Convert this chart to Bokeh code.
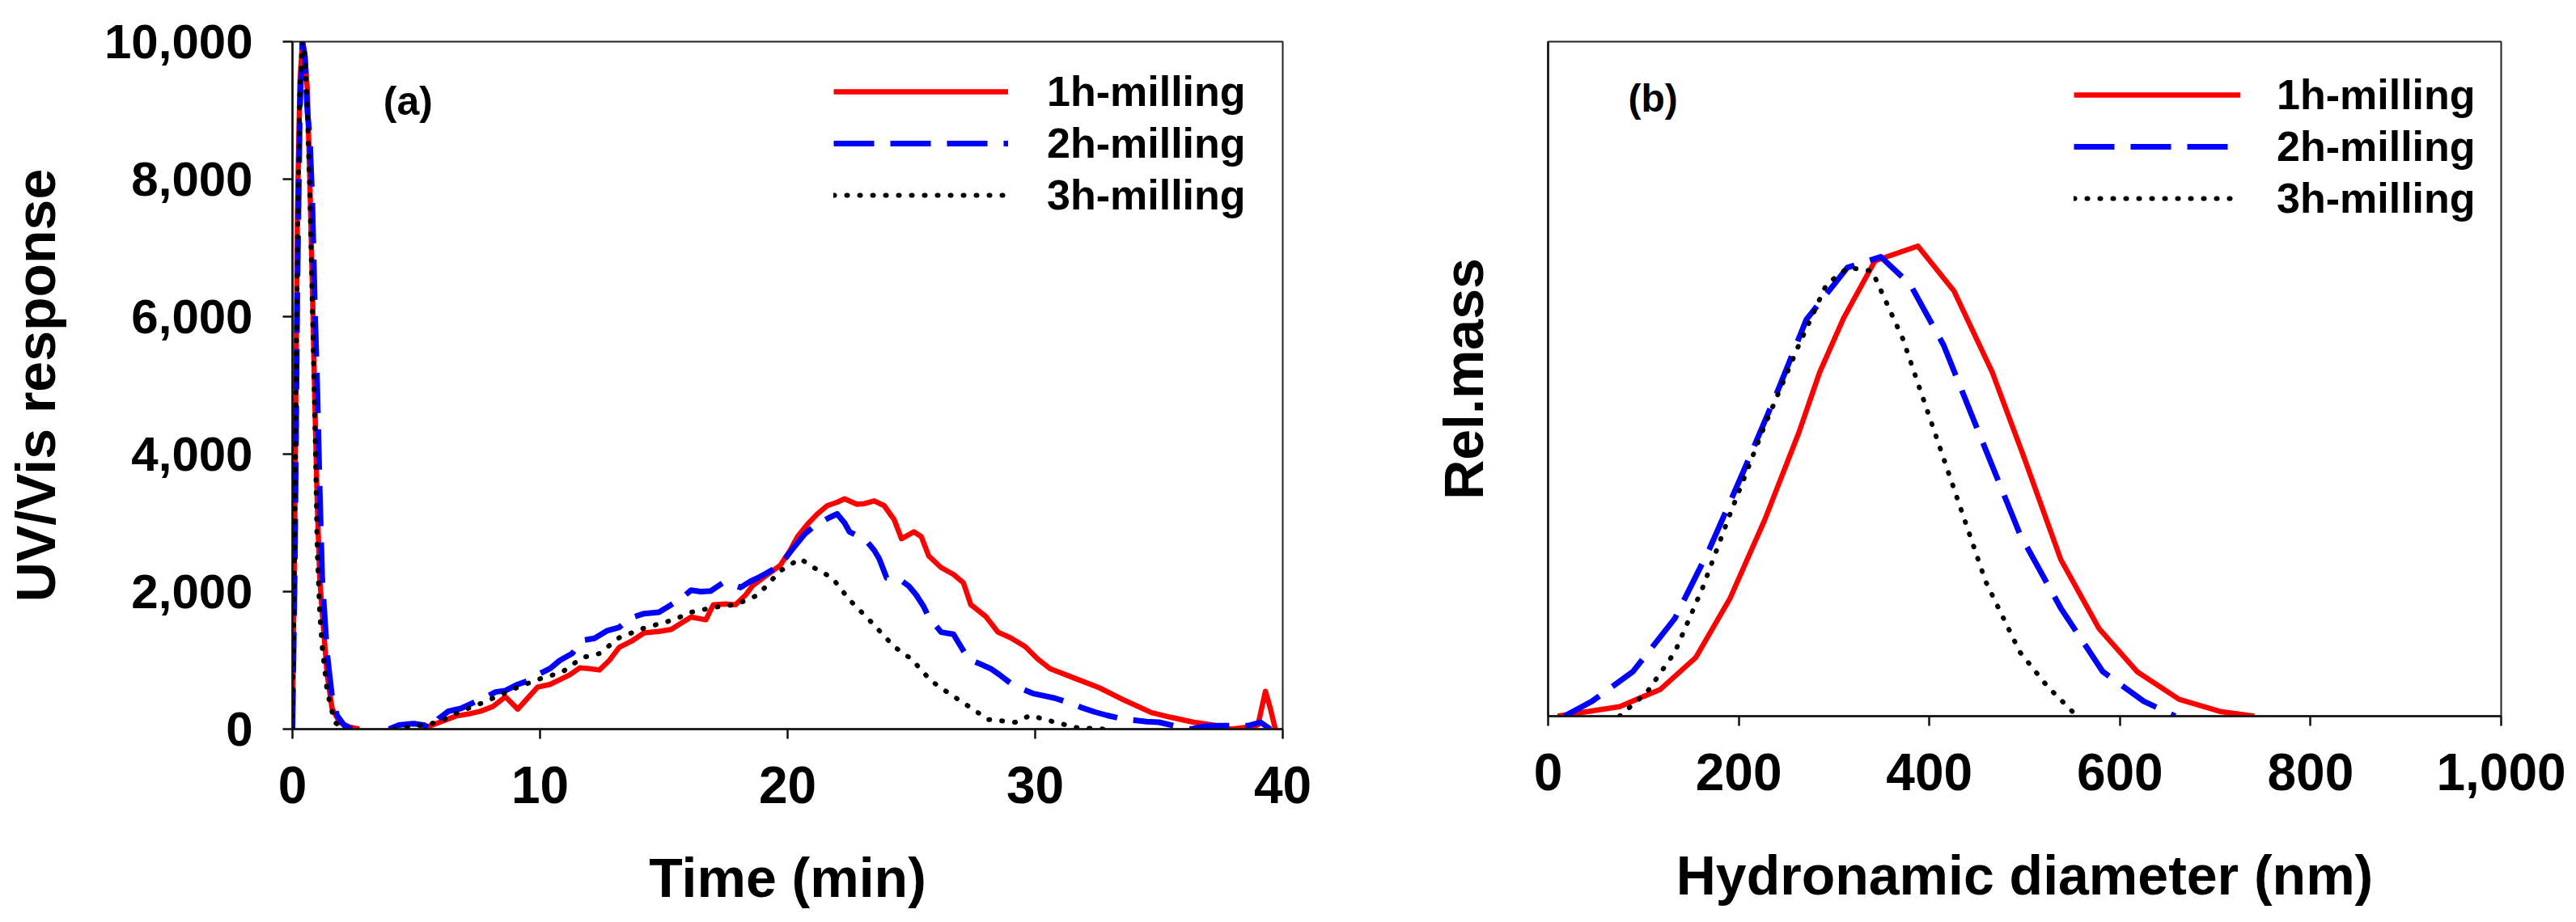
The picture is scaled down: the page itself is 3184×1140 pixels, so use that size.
from bokeh.plotting import figure
from bokeh.layouts import row
from bokeh.models import Legend, LegendItem, Label, NumeralTickFormatter, FixedTicker, Range1d
from bokeh.embed import file_html
from bokeh.resources import INLINE

nan = float("nan")
FONT = "Liberation Sans"

SERIES = ["1h-milling", "2h-milling", "3h-milling"]

# ---- (a) UV/Vis fractogram: time (min) vs detector response ----
time_1h = [0, 0.1, 0.2, 0.3, 0.4, 0.5, 0.6, 0.7, 0.8, 0.9, 1.0, 1.1, 1.2, 1.4, 1.6, 1.9, 2.3, 2.7, nan,
           5.2, 5.8, 6.6, 7.1, 7.6, 8.1, 8.6, 9.1, 9.5, 9.9, 10.4, 10.8, 11.2, 11.6, 12.0, 12.4, 12.8, 13.2,
           13.7, 14.2, 14.8, 15.3, 15.7, 16.1, 16.7, 17.0, 17.5, 17.9, 18.3, 18.6, 19.2, 19.7, 20.1, 20.4,
           20.8, 21.2, 21.6, 22.0, 22.3, 22.8, 23.1, 23.5, 23.9, 24.3, 24.6, 25.1, 25.4, 25.7, 26.2, 26.7,
           27.1, 27.4, 28.0, 28.5, 29.0, 29.6, 30.1, 30.6, 31.6, 32.6, 33.6, 34.7, 35.5, 36.4, 37.2, 37.9,
           38.6, 39.0, 39.3, 39.5, 39.7]
uv_1h = [0, 3300, 7500, 9400, 10000, 9800, 9300, 8000, 6500, 4800, 3300, 2200, 1700, 800, 300, 100, 30, 0, nan,
         0, 80, 190, 220, 260, 330, 470, 290, 450, 610, 650, 720, 790, 890, 880, 860, 1000, 1190,
         1280, 1400, 1420, 1450, 1540, 1630, 1590, 1810, 1820, 1810, 1950, 2090, 2250, 2380, 2600, 2800,
         2980, 3130, 3250, 3300, 3350, 3270, 3280, 3320, 3250, 3050, 2770, 2870, 2800, 2520, 2350, 2250,
         2130, 1810, 1640, 1410, 1330, 1200, 1020, 880, 740, 600, 420, 240, 170, 100, 60, 0,
         30, 60, 550, 300, 0]

time_2h = [0, 0.1, 0.2, 0.3, 0.4, 0.5, 0.6, 0.7, 0.8, 0.9, 1.0, 1.1, 1.2, 1.4, 1.6, 1.8, 2.1, 2.4, nan,
           3.9, 4.3, 4.9, 5.3, 5.6, 5.9, 6.3, 6.8, 7.4, 7.8, 8.2, 8.6, 9.1, 9.5, 9.9, 10.4, 10.8, 11.3,
           11.7, 12.2, 12.7, 13.2, 13.6, 14.2, 14.8, 15.3, 15.7, 16.1, 16.5, 16.9, 17.4, 17.8, 18.1, 18.5,
           18.8, 19.2, 19.5, 19.9, 20.2, 20.7, 21.0, 21.4, 21.7, 22.0, 22.3, 22.5, 22.9, 23.2, 23.5, 23.7,
           24.0, 24.3, 24.6, 24.9, 25.2, 25.5, 25.7, 26.0, 26.2, 26.7, 27.0, 27.3, 27.7, 28.2, 28.6, 29.0,
           29.5, 29.9, 30.4, 30.8, 31.4, 31.9, 32.4, 32.9, 33.5, 34.0, 34.5, 35.0, 35.6, 36.3, 36.8, 37.4,
           38.0, 38.6, 39.1, 39.5]
uv_2h = [0, 2500, 6500, 9000, 10000, 9800, 9000, 8600, 7700, 6200, 5000, 3500, 2200, 1100, 470, 200, 50, 0, nan,
         0, 60, 80, 60, 0, 150, 260, 300, 400, 460, 540, 560, 650, 700, 790, 880, 1000, 1100,
         1290, 1320, 1430, 1480, 1610, 1680, 1700, 1810, 1900, 2020, 2000, 2010, 2130, 2100, 2060, 2150,
         2200, 2280, 2340, 2480, 2620, 2840, 2930, 3020, 3080, 3130, 3000, 2870, 2800, 2730, 2600, 2480,
         2200, 2180, 2160, 2080, 1950, 1780, 1630, 1500, 1410, 1380, 1200, 1020, 960, 880, 780, 670,
         580, 520, 480, 450, 380, 310, 250, 200, 150, 130, 110, 100, 50, 0, 40, 50,
         50, 50, 100, 0]

time_3h = [0, 0.1, 0.2, 0.3, 0.4, 0.5, 0.6, 0.7, 0.8, 0.9, 1.0, 1.1, 1.2, 1.4, 1.7, 2.0, 2.2, nan,
           4.1, 4.9, 5.9, 6.8, 7.8, 8.9, 9.9, 10.9, 11.7, 12.4, 13.2, 14.2, 15.4, 16.1, 17.0, 17.9, 18.8,
           19.7, 20.5, 21.1, 21.8, 22.5, 23.4, 24.3, 25.0, 25.8, 26.4, 27.4, 28.1, 29.2, 29.8, 30.8, 31.7,
           32.8]
uv_3h = [0, 3000, 7000, 9300, 10000, 9800, 9000, 7800, 6200, 4600, 2600, 1700, 1200, 550, 100, 20, 0, nan,
         0, 40, 100, 260, 400, 580, 720, 830, 1040, 1100, 1330, 1470, 1590, 1700, 1770, 1810, 1950,
         2300, 2480, 2340, 2200, 1880, 1550, 1200, 1020, 700, 550, 310, 140, 100, 200, 100, 20,
         0]

# ---- (b) size distribution: hydrodynamic diameter (nm) vs relative mass ----
dh_1h = [10, 75, 118, 155, 191, 227, 263, 285, 310, 343, 388, 426, 466, 499, 538, 578, 618, 662, 705, 741]
mass_1h = [0, 0.014, 0.04, 0.087, 0.175, 0.29, 0.42, 0.51, 0.59, 0.675, 0.697, 0.63, 0.51, 0.385, 0.232,
           0.13, 0.066, 0.025, 0.007, 0]

dh_2h = [17, 46, 89, 133, 169, 205, 242, 271, 314, 349, 380, 415, 452, 495, 538, 582, 625, 658]
mass_2h = [0, 0.022, 0.066, 0.145, 0.247, 0.363, 0.486, 0.588, 0.665, 0.681, 0.64, 0.55, 0.42, 0.27,
           0.16, 0.066, 0.022, 0]

dh_3h = [75, 104, 133, 162, 191, 227, 263, 292, 315, 340, 372, 401, 430, 459, 495, 524, 550]
mass_3h = [0, 0.036, 0.095, 0.19, 0.3, 0.43, 0.55, 0.64, 0.665, 0.66, 0.56, 0.44, 0.32, 0.2, 0.095,
           0.044, 0.007]

STYLES = [
    dict(line_color="#ff0000", line_width=6.5, line_join="round"),
    dict(line_color="#0000ff", line_width=7, line_dash="50 20", line_join="round"),
    dict(line_color="#000000", line_width=6, line_dash="1 15", line_cap="round", line_join="round"),
]

TEXT = dict(text_font=FONT, text_font_style="bold", text_color="#000000")


def style_axes(p, x_ticks, y_ticks, x_label, y_label, x_std, x_lab_std, y_std, y_lab_std):
    for ax in (p.xaxis[0], p.yaxis[0]):
        ax.axis_line_color = "#111111"
        ax.axis_line_width = 2.5
        ax.major_tick_line_color = "#111111"
        ax.major_tick_line_width = 2.5
        ax.major_tick_in = 0
        ax.major_tick_out = 12
        ax.minor_tick_in = 0
        ax.minor_tick_out = 0
        ax.major_label_text_font = FONT
        ax.major_label_text_font_style = "bold"
        ax.major_label_text_color = "#000000"
        ax.axis_label_text_font = FONT
        ax.axis_label_text_font_style = "bold"
        ax.axis_label_text_color = "#000000"
        ax.axis_label_text_font_size = "68px"
        ax.formatter = NumeralTickFormatter(format="0,0")
    p.xaxis[0].ticker = FixedTicker(ticks=x_ticks)
    p.yaxis[0].ticker = FixedTicker(ticks=y_ticks)
    p.xaxis[0].major_label_text_font_size = "64px"
    p.yaxis[0].major_label_text_font_size = "60px"
    p.xaxis[0].axis_label = x_label
    p.yaxis[0].axis_label = y_label
    p.xaxis[0].major_label_standoff = x_std
    p.xaxis[0].axis_label_standoff = x_lab_std
    p.yaxis[0].major_label_standoff = y_std
    p.yaxis[0].axis_label_standoff = y_lab_std
    if not y_ticks:
        p.yaxis[0].major_tick_out = 0
    p.xgrid.visible = False
    p.ygrid.visible = False
    p.outline_line_color = "#222222"
    p.outline_line_width = 2
    p.background_fill_color = "white"
    p.border_fill_color = "white"


def add_legend(p, renderers, loc, glyph_w, standoff):
    items = [LegendItem(label=name, renderers=[r]) for name, r in zip(SERIES, renderers)]
    leg = Legend(items=items, location=loc, glyph_width=glyph_w, glyph_height=40,
                 label_standoff=standoff, spacing=4, padding=0, margin=0,
                 border_line_color=None, background_fill_alpha=0,
                 label_text_font=FONT, label_text_font_style="bold",
                 label_text_font_size="52px", label_text_color="#000000")
    p.add_layout(leg)


# Panel (a)
pa = figure(width=1750, height=1140, x_range=Range1d(0, 40), y_range=Range1d(0, 10000),
            output_backend="svg", toolbar_location=None,
            min_border_left=361, min_border_right=165, min_border_top=51, min_border_bottom=239)
style_axes(pa, [0, 10, 20, 30, 40], [0, 2000, 4000, 6000, 8000, 10000],
           "Time (min)", "UV/Vis response", 34, 51, 37, 44)
ra = [pa.line(x, y, **s) for x, y, s in zip([time_1h, time_2h, time_3h], [uv_1h, uv_2h, uv_3h], STYLES)]
add_legend(pa, ra, (669, 630), 216, 48)
pa.add_layout(Label(x=4.67, y=9140, text="(a)", text_font_size="50px",
                    text_align="center", text_baseline="middle", **TEXT))

# Panel (b): 16 px shorter so its frame sits higher, as in the original figure
pb = figure(width=1434, height=1124, x_range=Range1d(0, 1000), y_range=Range1d(0, 1),
            output_backend="svg", toolbar_location=None,
            min_border_left=163, min_border_right=93, min_border_top=51, min_border_bottom=239)
style_axes(pb, [0, 200, 400, 600, 800, 1000], [],
           "Hydronamic diameter (nm)", "Rel.mass", 34, 64, 0, 67)
rb = [pb.line(x, y, **s) for x, y, s in zip([dh_1h, dh_2h, dh_3h], [mass_1h, mass_2h, mass_3h], STYLES)]
add_legend(pb, rb, (650, 610), 206, 45)
pb.add_layout(Label(x=110, y=0.916, text="(b)", text_font_size="48px",
                    text_align="center", text_baseline="middle", **TEXT))

layout = row(pa, pb)
open("out.html", "w").write(file_html(layout, INLINE))
